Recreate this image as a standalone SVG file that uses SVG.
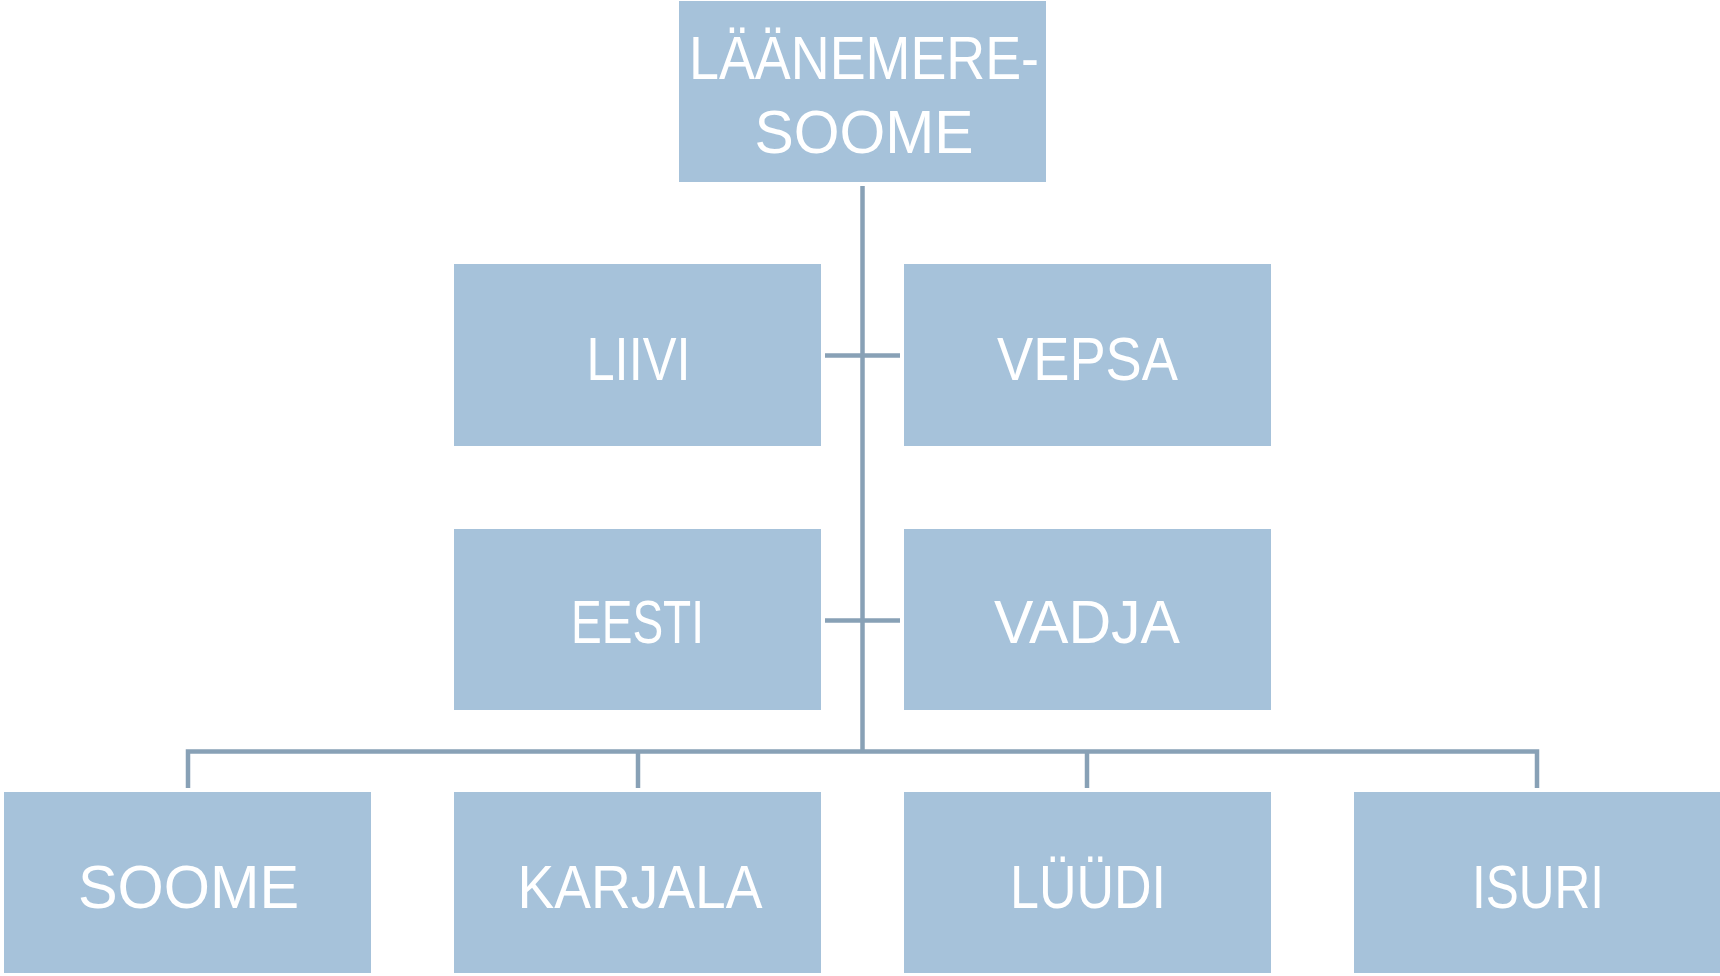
<svg xmlns="http://www.w3.org/2000/svg" width="1720" height="976" viewBox="0 0 1720 976">
<style>
.box{fill:#a6c2da;}
.lbl{fill:#ffffff;font-family:"Liberation Sans",Arial,sans-serif;font-size:61px;text-anchor:middle;}
.ln{stroke:#88a1b6;stroke-width:4.5;fill:none;}
</style>
<rect width="1720" height="976" fill="#ffffff"/>
<g id="connectors">
<line class="ln" x1="862.5" y1="186" x2="862.5" y2="753"/>
<line class="ln" x1="825" y1="355.5" x2="900" y2="355.5"/>
<line class="ln" x1="825" y1="620.5" x2="900" y2="620.5"/>
<polyline class="ln" points="188,788 188,751.5 1537,751.5 1537,788"/>
<line class="ln" x1="638" y1="751.5" x2="638" y2="788"/>
<line class="ln" x1="1087" y1="751.5" x2="1087" y2="788"/>
</g>
<g id="n-laanemere">
<rect class="box" x="679" y="1" width="367" height="181"/>
<text class="lbl" x="864" y="79" textLength="350" lengthAdjust="spacingAndGlyphs">LÄÄNEMERE-</text>
<text class="lbl" x="864" y="153" textLength="219" lengthAdjust="spacingAndGlyphs">SOOME</text>
</g>
<g id="n-liivi">
<rect class="box" x="454" y="264" width="367" height="182"/>
<text class="lbl" x="638.5" y="380" textLength="104" lengthAdjust="spacingAndGlyphs">LIIVI</text>
</g>
<g id="n-vepsa">
<rect class="box" x="904" y="264" width="367" height="182"/>
<text class="lbl" x="1087.5" y="380" textLength="181" lengthAdjust="spacingAndGlyphs">VEPSA</text>
</g>
<g id="n-eesti">
<rect class="box" x="454" y="529" width="367" height="181"/>
<text class="lbl" x="637.5" y="643" textLength="133" lengthAdjust="spacingAndGlyphs">EESTI</text>
</g>
<g id="n-vadja">
<rect class="box" x="904" y="529" width="367" height="181"/>
<text class="lbl" x="1087" y="643" textLength="186" lengthAdjust="spacingAndGlyphs">VADJA</text>
</g>
<g id="n-soome">
<rect class="box" x="4" y="792" width="367" height="181"/>
<text class="lbl" x="188.5" y="908" textLength="221" lengthAdjust="spacingAndGlyphs">SOOME</text>
</g>
<g id="n-karjala">
<rect class="box" x="454" y="792" width="367" height="181"/>
<text class="lbl" x="640" y="908" textLength="245" lengthAdjust="spacingAndGlyphs">KARJALA</text>
</g>
<g id="n-luudi">
<rect class="box" x="904" y="792" width="367" height="181"/>
<text class="lbl" x="1088" y="908" textLength="156" lengthAdjust="spacingAndGlyphs">LÜÜDI</text>
</g>
<g id="n-isuri">
<rect class="box" x="1354" y="792" width="366" height="181"/>
<text class="lbl" x="1538" y="908" textLength="132" lengthAdjust="spacingAndGlyphs">ISURI</text>
</g>
</svg>
